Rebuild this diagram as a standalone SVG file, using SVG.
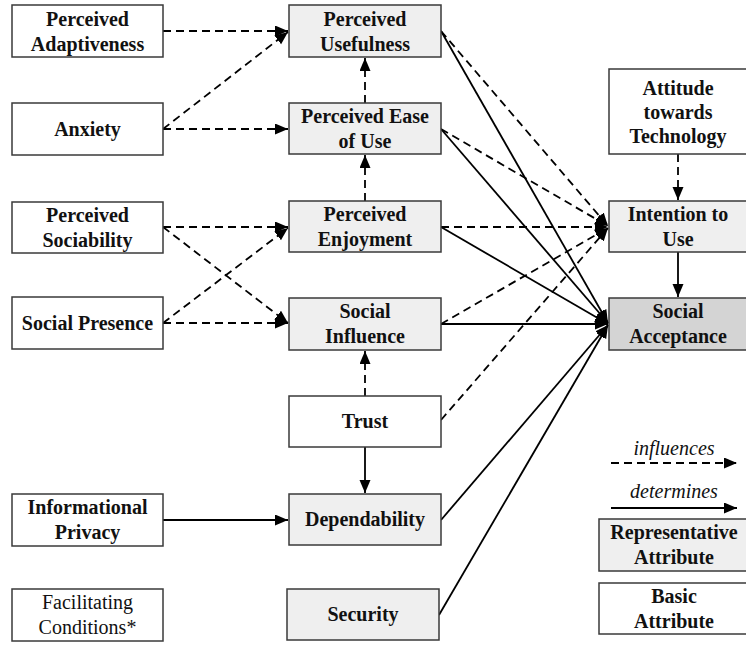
<svg xmlns="http://www.w3.org/2000/svg" width="746" height="645" viewBox="0 0 746 645">
<style>
.box{stroke:#3a3a3a;stroke-width:1.5;fill:#ffffff}
.rep{fill:#efefef}
.dark{fill:#d4d4d4}
.t{font-family:"Liberation Serif","Times New Roman",serif;font-weight:bold;font-size:20px;fill:#111;text-anchor:middle}
.reg{font-weight:normal}
.it{font-weight:normal;font-style:italic}
.c{fill:none;stroke:#000;stroke-width:1.8}
.d{stroke-dasharray:8,5}
</style>
<defs>
<marker id="ah" markerUnits="userSpaceOnUse" markerWidth="14" markerHeight="12" refX="13" refY="5.5" orient="auto">
<path d="M0,0 L13,5.5 L0,11 z" fill="#000" stroke="none"/>
</marker>
</defs>
<rect width="746" height="645" fill="#fff"/>
<g id="connectors">
<line class="c d" x1="163" y1="31" x2="288" y2="31" marker-end="url(#ah)"/>
<line class="c d" x1="163" y1="129" x2="288" y2="32" marker-end="url(#ah)"/>
<line class="c d" x1="163" y1="129" x2="288" y2="129" marker-end="url(#ah)"/>
<line class="c d" x1="365" y1="103" x2="365" y2="58" marker-end="url(#ah)"/>
<line class="c d" x1="365" y1="201" x2="365" y2="155" marker-end="url(#ah)"/>
<line class="c d" x1="163" y1="227" x2="288" y2="227" marker-end="url(#ah)"/>
<line class="c d" x1="163" y1="227" x2="288" y2="323" marker-end="url(#ah)"/>
<line class="c d" x1="163" y1="323" x2="288" y2="228" marker-end="url(#ah)"/>
<line class="c d" x1="163" y1="323" x2="288" y2="323" marker-end="url(#ah)"/>
<line class="c d" x1="365" y1="396" x2="365" y2="351" marker-end="url(#ah)"/>
<line class="c" x1="365" y1="447" x2="365" y2="493" marker-end="url(#ah)"/>
<line class="c" x1="163" y1="520" x2="288" y2="520" marker-end="url(#ah)"/>
<line class="c" x1="441" y1="31" x2="608" y2="323" marker-end="url(#ah)"/>
<line class="c d" x1="441" y1="31" x2="608" y2="226" marker-end="url(#ah)"/>
<line class="c" x1="441" y1="129" x2="608" y2="323" marker-end="url(#ah)"/>
<line class="c d" x1="441" y1="129" x2="608" y2="226" marker-end="url(#ah)"/>
<line class="c d" x1="441" y1="227" x2="608" y2="227" marker-end="url(#ah)"/>
<line class="c" x1="441" y1="227" x2="608" y2="324" marker-end="url(#ah)"/>
<line class="c d" x1="441" y1="324" x2="608" y2="228" marker-end="url(#ah)"/>
<line class="c" x1="441" y1="324" x2="608" y2="324" marker-end="url(#ah)"/>
<line class="c d" x1="441" y1="420" x2="608" y2="228" marker-end="url(#ah)"/>
<line class="c" x1="441" y1="520" x2="608" y2="325" marker-end="url(#ah)"/>
<line class="c" x1="439" y1="615" x2="608" y2="325" marker-end="url(#ah)"/>
<line class="c d" x1="678" y1="154" x2="678" y2="200" marker-end="url(#ah)"/>
<line class="c" x1="678" y1="252" x2="678" y2="297" marker-end="url(#ah)"/>
</g>
<g id="n-adaptiveness"><rect class="box" x="12" y="5" width="151" height="52"/><text class="t" x="87.5" y="25.5">Perceived</text><text class="t" x="87.5" y="50.5">Adaptiveness</text></g>
<g id="n-anxiety"><rect class="box" x="12" y="103" width="151" height="52"/><text class="t" x="87.5" y="136">Anxiety</text></g>
<g id="n-sociability"><rect class="box" x="12" y="202" width="151" height="51"/><text class="t" x="87.5" y="221.5">Perceived</text><text class="t" x="87.5" y="246.5">Sociability</text></g>
<g id="n-presence"><rect class="box" x="12" y="297" width="151" height="52"/><text class="t" x="87.5" y="330">Social Presence</text></g>
<g id="n-privacy"><rect class="box" x="12" y="494" width="151" height="52"/><text class="t" x="87.5" y="514">Informational</text><text class="t" x="87.5" y="539">Privacy</text></g>
<g id="n-facilitating"><rect class="box" x="12" y="589" width="151" height="52"/><text class="t reg" x="87.5" y="609">Facilitating</text><text class="t reg" x="87.5" y="634">Conditions*</text></g>
<g id="n-usefulness"><rect class="box rep" x="289" y="5" width="152" height="52"/><text class="t" x="365" y="25.5">Perceived</text><text class="t" x="365" y="50.5">Usefulness</text></g>
<g id="n-ease"><rect class="box rep" x="289" y="103" width="152" height="51"/><text class="t" x="365" y="123">Perceived Ease</text><text class="t" x="365" y="148">of Use</text></g>
<g id="n-enjoyment"><rect class="box rep" x="289" y="201" width="152" height="51"/><text class="t" x="365" y="221">Perceived</text><text class="t" x="365" y="246">Enjoyment</text></g>
<g id="n-influence"><rect class="box rep" x="289" y="298" width="152" height="52"/><text class="t" x="365" y="318">Social</text><text class="t" x="365" y="343">Influence</text></g>
<g id="n-trust"><rect class="box" x="289" y="396" width="152" height="51"/><text class="t" x="365" y="428">Trust</text></g>
<g id="n-dependability"><rect class="box rep" x="289" y="494" width="152" height="51"/><text class="t" x="365" y="526">Dependability</text></g>
<g id="n-security"><rect class="box rep" x="287" y="589" width="152" height="51"/><text class="t" x="363" y="621">Security</text></g>
<g id="n-attitude"><rect class="box" x="609" y="69" width="150" height="85"/><text class="t" x="678" y="95">Attitude</text><text class="t" x="678" y="119">towards</text><text class="t" x="678" y="143">Technology</text></g>
<g id="n-intention"><rect class="box rep" x="609" y="201" width="150" height="51"/><text class="t" x="678" y="221">Intention to</text><text class="t" x="678" y="246">Use</text></g>
<g id="n-acceptance"><rect class="box dark" x="609" y="298" width="150" height="52"/><text class="t" x="678" y="318">Social</text><text class="t" x="678" y="343">Acceptance</text></g>
<g id="legend">
<text class="t it" x="674" y="455">influences</text>
<line class="c d" x1="611" y1="463" x2="737" y2="463" marker-end="url(#ah)"/>
<text class="t it" x="674" y="498">determines</text>
<line class="c" x1="611" y1="508" x2="737" y2="508" marker-end="url(#ah)"/>
<rect class="box rep" x="599" y="519" width="160" height="52"/><text class="t" x="674" y="539">Representative</text><text class="t" x="674" y="564">Attribute</text>
<rect class="box" x="599" y="583" width="160" height="51"/><text class="t" x="674" y="603">Basic</text><text class="t" x="674" y="628">Attribute</text>
</g>
</svg>
